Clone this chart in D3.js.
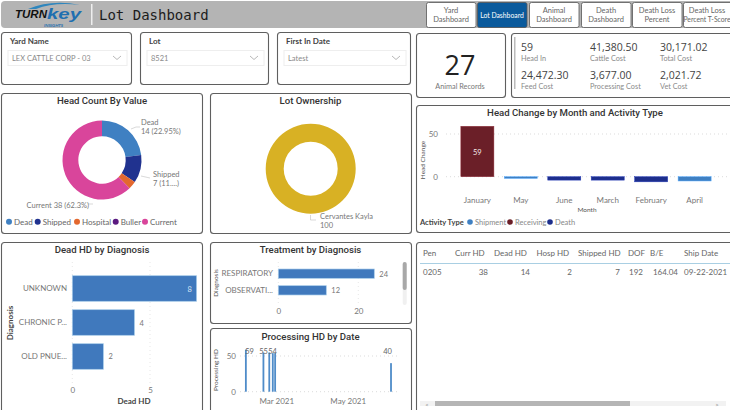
<!DOCTYPE html>
<html>
<head>
<meta charset="utf-8">
<script src="https://d3js.org/d3.v7.min.js"></script>
<style>
html,body{margin:0;padding:0;background:#fff;overflow:hidden}
svg{display:block}
text{font-family:Lato,"Noto Sans",sans-serif;fill:#6b6b6b}
.ttl{font-family:Roboto,"Noto Sans",sans-serif;font-weight:500;fill:#333;font-size:9.6px}
</style>
</head>
<body>
<svg id="c" width="730" height="410"></svg>
<script>
// data
var navLabels = [["Yard","Dashboard"],["Lot Dashboard"],["Animal","Dashboard"],["Death","Dashboard"],["Death Loss","Percent"],["Death Loss","Percent T-Score"]];
var slicerNames = ["Yard Name","Lot","First In Date"];
var slicerValues = ["LEX CATTLE CORP - 03","8521","Latest"];
var kpiValues = ["59","41,380.50","30,171.02","24,472.30","3,677.00","2,021.72"];
var kpiLabels = ["Head In","Cattle Cost","Total Cost","Feed Cost","Processing Cost","Vet Cost"];

var headCats = ["Dead","Shipped","Hospital","Buller","Current"];
var headVals = [14,7,2,0,38];
var headCols = ["#3f80c2","#20328f","#e3682f","#5b1a80","#d9459b"];

var ownerCats = ["Cervantes Kayla"];
var ownerVals = [100];

var months = ["January","May","June","March","February","April"];
var monthVals = [59,-2,-4,-4,-6,-5];
var monthType = ["Receiving","Shipment","Death","Death","Death","Shipment"];
var activityTypes = ["Shipment","Receiving","Death"];
var activityCols = ["#3f80c2","#6b1f28","#1d2e8c"];

var deadDiag = ["UNKNOWN","CHRONIC P...","OLD PNUE..."];
var deadVals = [8,4,2];
var treatDiag = ["RESPIRATORY","OBSERVATI..."];
var treatVals = [24,12];

var procDates = ["2021-02-03","2021-02-18","2021-02-23","2021-02-26","2021-02-28","2021-06-07"];
var procVals = [59,55,55,54,54,40];

var tableCols = ["Pen","Curr HD","Dead HD","Hosp HD","Shipped HD","DOF","B/E","Ship Date"];
var tableRow = ["0205","38","14","2","7","192","164.04","09-22-2021"];

var svg = d3.select("#c");

function panel(x,y,w,h){
  svg.append("rect").attr("x",x+.5).attr("y",y+.5).attr("width",w).attr("height",h).attr("rx",3)
    .attr("fill","#fff").attr("stroke","#5f5f5f").attr("stroke-width",1.1);
}
function label(t,x,y,size,anchor,col,cls){
  var e = svg.append("text").attr("x",x).attr("y",y).text(t).attr("font-size",size).attr("text-anchor",anchor||"start");
  if(col) e.style("fill",col);
  if(cls) e.attr("class",cls);
  return e;
}
function vlabel(t,x,y,size,col,weight){
  return svg.append("text").attr("transform","translate("+x+","+y+") rotate(-90)").attr("text-anchor","middle")
    .attr("font-size",size).style("fill",col||"#555").style("font-weight",weight||400).text(t);
}
function title(t,x,y){ return label(t,x,y,9.6,"middle",null,"ttl"); }
function cleanAxis(g){
  g.select(".domain").remove();
  g.selectAll("line").remove();
  g.selectAll("text").style("fill","#777").attr("font-size",8).style("font-family",'Lato,sans-serif');
}

// header
svg.append("rect").attr("x",1).attr("y",1).attr("width",735).attr("height",27).attr("rx",4).attr("fill","#b4b4b4");
svg.append("path").attr("d","M28 9 Q52 -1 80 5 Q54 2 36 9Z").attr("fill","#2f86bd");
label("TURN",15,18,11,"start","#111").style("font-family","'Liberation Sans'").style("font-weight",700).style("font-style","italic")
  .attr("textLength",32).attr("lengthAdjust","spacingAndGlyphs");
label("key",47,19,15,"start","#1f6fb0").style("font-family","'Liberation Sans'").style("font-weight",700).style("font-style","italic")
  .attr("textLength",34).attr("lengthAdjust","spacingAndGlyphs");
label("INSIGHTS",44,27,4.5,"start","#1f6fb0").style("font-weight",700).style("font-style","italic");
svg.append("rect").attr("x",91).attr("y",4).attr("width",1.5).attr("height",21).attr("fill","#eee");
label("Lot Dashboard",99,20,14,"start","#1c1c1c").style("font-family","'DejaVu Sans Mono',monospace");

var navX = [426,477,529,581,632,683];
navLabels.forEach(function(l,i){
  var active = i==1;
  svg.append("rect").attr("x",navX[i]+.5).attr("y",2.5).attr("width",49.5).attr("height",25).attr("rx",2)
    .attr("fill",active?"#0a5a9c":"#fff").attr("stroke","#555").attr("stroke-width",.8);
  l.forEach(function(s,j){
    var yy = l.length==1 ? 17.5 : 12.5+j*9;
    var size = s.length>12 ? 6.8 : 7.5;
    label(s,i==5?707:navX[i]+25,yy,size,"middle",active?"#fff":"#666");
  });
});

// slicers
[[1,32,130,52],[140,32,128,52],[277,32,133,52]].forEach(function(p,i){
  panel(p[0],p[1],p[2],p[3]);
  label(slicerNames[i],p[0]+9,p[1]+12,8,"start","#444").style("font-weight",700);
  svg.append("rect").attr("x",p[0]+7).attr("y",p[1]+18.5).attr("width",p[2]-11).attr("height",15).attr("fill","#fff").attr("stroke","#eee");
  label(slicerValues[i],p[0]+11,p[1]+29,7.5,"start","#8a8a8a");
  var cx = p[0]+p[2]-14;
  svg.append("path").attr("d","M"+(cx-4)+" "+(p[1]+24)+"l4 3.5l4 -3.5").attr("fill","none").attr("stroke","#999").attr("stroke-width",.7);
});

// animal records card
panel(416,33,89,64);
label("27",460,75,27,"middle","#222").style("font-family","'Open Sans'");
label("Animal Records",460,88.5,7.3,"middle","#777");

// kpi card
panel(511,33,225,64);
svg.append("rect").attr("x",514).attr("y",37).attr("width",1.5).attr("height",52).attr("fill","#bbb");
var kpiX = [521,590,660];
kpiValues.forEach(function(v,i){
  var x = kpiX[i%3], row = Math.floor(i/3);
  label(v,x,51+row*28,10.5,"start","#444").style("font-family","'Open Sans'");
  label(kpiLabels[i],x,60.5+row*28,7.3,"start","#8a8a8a");
});

// head count donut
panel(1,93,201,140);
title("Head Count By Value",102,104);
var pie = d3.pie().sort(null);
var arc1 = d3.arc().innerRadius(23.7).outerRadius(39.5);
var gd = svg.append("g").attr("transform","translate(102,160)");
gd.selectAll("path").data(pie(headVals)).enter().append("path").attr("d",arc1)
  .attr("fill",function(d,i){return headCols[i];});
var lc = "#c8c8c8";
svg.append("path").attr("d","M131 129 L136 127 L140 127").attr("fill","none").attr("stroke",lc).attr("stroke-width",.7);
svg.append("path").attr("d","M141 176 L150 178").attr("fill","none").attr("stroke",lc).attr("stroke-width",.7);
svg.append("path").attr("d","M88 204 L93 204").attr("fill","none").attr("stroke",lc).attr("stroke-width",.7);
label(headCats[0],141,124.5,7.5,"start","#777");
label(headVals[0]+" (22.95%)",141,134,7.5,"start","#777");
label(headCats[1],153,176.5,7.5,"start","#777");
label(headVals[1]+" (11....)",153,186,7.5,"start","#777");
label(headCats[4]+" "+headVals[4]+" (62.3%)",26.5,207.5,7.5,"start","#777");
var legX = [6,34.7,74,112.7,142];
headCats.forEach(function(c,i){
  svg.append("circle").attr("cx",legX[i]+3).attr("cy",221.7).attr("r",3).attr("fill",headCols[i]);
  label(c,legX[i]+8,224.5,8,"start","#666");
});

// ownership donut
panel(210,93,201,140);
title("Lot Ownership",310.5,104);
var arc2 = d3.arc().innerRadius(27).outerRadius(45);
svg.append("g").attr("transform","translate(310.7,168.7)").selectAll("path").data(pie(ownerVals)).enter()
  .append("path").attr("d",arc2).attr("fill","#d8b124");
svg.append("path").attr("d","M310.5 215 V220 H316").attr("fill","none").attr("stroke",lc).attr("stroke-width",.7);
label(ownerCats[0],320,218.5,7.5,"start","#777");
label(String(ownerVals[0]),320,228,7.5,"start","#777");

// head change by month
panel(416,105,320,127);
title("Head Change by Month and Activity Type",575,116);
var hx = d3.scaleBand().domain(months).range([450,722]).paddingInner(.24).paddingOuter(.25);
var hy = d3.scaleLinear().domain([0,50]).range([176.7,134]);
[0,50].forEach(function(t){
  svg.append("line").attr("x1",446).attr("x2",730).attr("y1",hy(t)).attr("y2",hy(t)).attr("stroke","#ccc").attr("stroke-width",.7).attr("stroke-dasharray","1 3");
});
svg.append("g").attr("transform","translate(441,0)").call(d3.axisLeft(hy).tickValues([0,50]).tickSize(0)).call(cleanAxis);
svg.append("g").attr("transform","translate(0,194.5)").call(d3.axisBottom(hx).tickSize(0)).call(cleanAxis);
svg.selectAll(".hbar").data(months).enter().append("rect").attr("class","hbar")
  .attr("x",function(d){return hx(d);}).attr("width",hx.bandwidth())
  .attr("y",function(d,i){return hy(Math.max(0,monthVals[i]));})
  .attr("height",function(d,i){return Math.abs(hy(monthVals[i])-hy(0));})
  .attr("fill",function(d,i){return activityCols[activityTypes.indexOf(monthType[i])];})
  .attr("stroke",function(d,i){return d3.color(activityCols[activityTypes.indexOf(monthType[i])]).brighter(.8);})
  .attr("stroke-width",.5);
label(String(monthVals[0]),hx(months[0])+hx.bandwidth()/2,155,7.5,"middle","#f3eaea");
vlabel("Head Change",425,160,6.5,"#555");
label("Month",587,212,6.5,"middle","#555");
label("Activity Type",420,224.5,7.5,"start","#444").style("font-weight",700);
var actX = [468,508,548];
activityTypes.forEach(function(c,i){
  svg.append("circle").attr("cx",actX[i]+2).attr("cy",222).attr("r",2.8).attr("fill",activityCols[i]);
  label(c,actX[i]+7,224.5,7.5,"start","#888");
});

// dead hd by diagnosis
panel(1,242,201,172);
title("Dead HD by Diagnosis",102,253);
var dx = d3.scaleLinear().domain([0,5]).range([72.3,150]);
var dy = d3.scaleBand().domain(deadDiag).range([267.2,377.8]).paddingInner(.247).paddingOuter(.25);
[0,5].forEach(function(t){
  svg.append("line").attr("x1",dx(t)).attr("x2",dx(t)).attr("y1",262).attr("y2",383).attr("stroke","#ddd").attr("stroke-width",.7).attr("stroke-dasharray","1 3");
});
svg.selectAll(".dbar").data(deadDiag).enter().append("rect").attr("class","dbar")
  .attr("x",dx(0)).attr("y",function(d){return dy(d);}).attr("height",dy.bandwidth())
  .attr("width",function(d,i){return dx(deadVals[i])-dx(0);}).attr("fill","#4079bd").attr("stroke","#a9cdea").attr("stroke-width",.7);
svg.append("g").attr("transform","translate(67,0)").call(d3.axisLeft(dy).tickSize(0).tickPadding(0)).call(cleanAxis);
svg.append("g").attr("transform","translate(0,384)").call(d3.axisBottom(dx).tickValues([0,5]).tickFormat(d3.format("d")).tickSize(0)).call(cleanAxis);
deadDiag.forEach(function(d,i){
  var inside = i==0;
  label(String(deadVals[i]),inside?dx(deadVals[i])-7:dx(deadVals[i])+5,dy(d)+dy.bandwidth()/2+3,7.5,inside?"middle":"start",inside?"#d5e6f5":"#777");
});
label("Dead HD",134,404,8,"middle","#444").style("font-weight",700);
vlabel("Diagnosis",13,323,8,"#444",700);

// treatment by diagnosis
panel(210,242,201,81);
title("Treatment by Diagnosis",310.5,253);
var tx = d3.scaleLinear().domain([0,20]).range([278.3,358.3]);
var ty = d3.scaleBand().domain(treatDiag).range([264,300]).paddingInner(.44).paddingOuter(.3);
[0,20].forEach(function(t){
  svg.append("line").attr("x1",tx(t)).attr("x2",tx(t)).attr("y1",262).attr("y2",303).attr("stroke","#ddd").attr("stroke-width",.7).attr("stroke-dasharray","1 3");
});
svg.selectAll(".tbar").data(treatDiag).enter().append("rect").attr("class","tbar")
  .attr("x",tx(0)).attr("y",function(d){return ty(d);}).attr("height",ty.bandwidth())
  .attr("width",function(d,i){return tx(treatVals[i])-tx(0);}).attr("fill","#4079bd").attr("stroke","#a9cdea").attr("stroke-width",.7);
svg.append("g").attr("transform","translate(273,0)").call(d3.axisLeft(ty).tickSize(0).tickPadding(0)).call(cleanAxis);
svg.append("g").attr("transform","translate(0,305)").call(d3.axisBottom(tx).tickValues([0,20]).tickFormat(d3.format("d")).tickSize(0)).call(cleanAxis);
treatDiag.forEach(function(d,i){
  label(String(treatVals[i]),tx(treatVals[i])+5,ty(d)+ty.bandwidth()/2+3,7.5,"start","#777");
});
vlabel("Diagnosis",218,283,6.5,"#555");
svg.append("rect").attr("x",402.7).attr("y",262).attr("width",4).attr("height",43).attr("rx",2).attr("fill","#f0f0f0");
svg.append("rect").attr("x",402.7).attr("y",262).attr("width",4).attr("height",28).attr("rx",2).attr("fill","#a8a8a8");

// processing hd by date
panel(210,328,201,86);
title("Processing HD by Date",310.5,340);
var parse = d3.utcParse("%Y-%m-%d");
var px = d3.scaleUtc().domain([parse("2021-03-01"),parse("2021-05-01")]).range([276.3,347.7]);
var py = d3.scaleLinear().domain([0,50]).range([391.7,356]);
[0,50].forEach(function(t){
  svg.append("line").attr("x1",240).attr("x2",398).attr("y1",py(t)).attr("y2",py(t)).attr("stroke","#ccc").attr("stroke-width",.7).attr("stroke-dasharray","1 3");
});
svg.selectAll(".pbar").data(procDates).enter().append("rect").attr("class","pbar")
  .attr("x",function(d){return px(parse(d))-.9;}).attr("width",1.8)
  .attr("y",function(d,i){return py(procVals[i]);})
  .attr("height",function(d,i){return py(0)-py(procVals[i]);})
  .attr("fill","#4f8cc9");
svg.append("g").attr("transform","translate(239,0)").call(d3.axisLeft(py).tickValues([0,50]).tickSize(0)).call(cleanAxis);
svg.append("g").attr("transform","translate(0,395)")
  .call(d3.axisBottom(px).tickValues([parse("2021-03-01"),parse("2021-05-01")]).tickFormat(d3.utcFormat("%b %Y")).tickSize(0)).call(cleanAxis);
var pLabels = [[0,249.5],[1,263.5],[3,272.5],[5,387.5]];
pLabels.forEach(function(p){
  label(String(procVals[p[0]]),p[1],354,7.5,"middle","#666");
});
vlabel("Processing HD",218,370,6.5,"#555");

// table
panel(416,242,320,172);
var colRight = [436,488,530,572,620,643,678,723];
var colLeft = [423,455,494,536.5,578,628,650,684];
tableCols.forEach(function(c,i){
  label(c,colLeft[i],256,8,"start","#666");
});
svg.append("line").attr("x1",420).attr("x2",730).attr("y1",263.5).attr("y2",263.5).attr("stroke","#a9cfe3").attr("stroke-width",1);
tableRow.forEach(function(v,i){
  if(i==0 || i==7) label(v,colLeft[i],274.5,8,"start","#666");
  else label(v,colRight[i],274.5,8,"end","#666");
});
svg.append("rect").attr("x",420).attr("y",401).attr("width",306).attr("height",5).attr("fill","#f2f2f2");
svg.append("rect").attr("x",435).attr("y",401).attr("width",195).attr("height",5).attr("fill","#b5b5b5");
label("<",427,406.5,6,"middle","#888");
label(">",717,406.5,6,"middle","#888");
</script>
</body>
</html>
